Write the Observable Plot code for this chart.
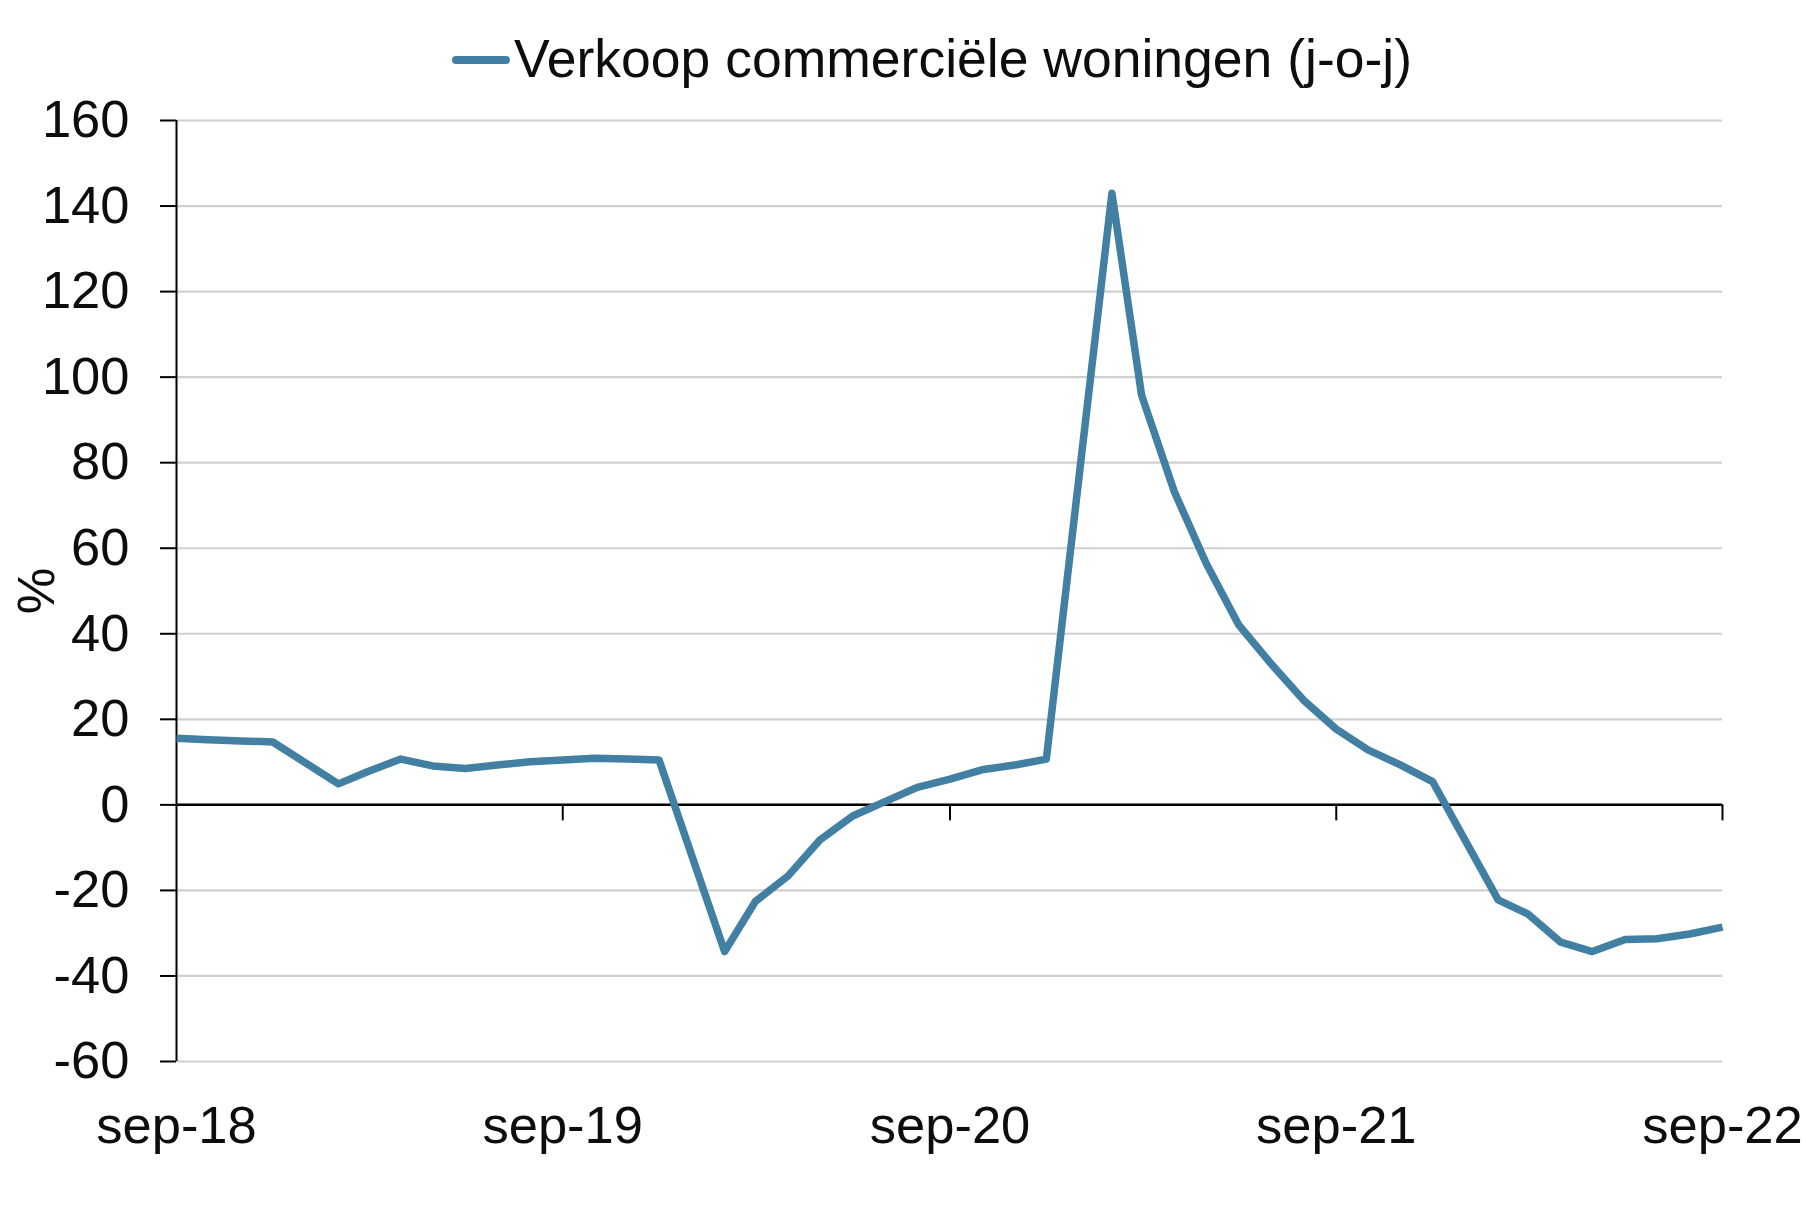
<!DOCTYPE html>
<html>
<head>
<meta charset="utf-8">
<script src="https://cdn.jsdelivr.net/npm/d3@7"></script>
<script src="https://cdn.jsdelivr.net/npm/@observablehq/plot@0.6"></script>
<style>
  html, body { margin: 0; padding: 0; background: #fff; }
  body { width: 1806px; height: 1209px; position: relative; overflow: hidden; font-family: "Liberation Sans", Arial, sans-serif; }
  #legend { position: relative; width: 1806px; height: 80px; }
  #legend .sw { position: absolute; left: 452px; top: 56px; width: 58px; height: 8px; border-radius: 4px; background: #417fa3; }
  #legend .lb { position: absolute; left: 514px; top: 31.5px; font-size: 53.5px; line-height: 53.5px; color: #0d0d0d; white-space: nowrap; }
  #chart svg { display: block; overflow: visible; }
</style>
</head>
<body>
<div id="legend"><div class="sw"></div><div class="lb" id="seriesName"></div></div>
<div id="chart"></div>
<script>
// ---- data ----
const seriesName = "Verkoop commerciële woningen (j-o-j)";
const months = [
  "2018-09","2018-10","2018-11","2018-12","2019-02","2019-03","2019-04","2019-05","2019-06","2019-07","2019-08",
  "2019-09","2019-10","2019-11","2019-12","2020-02","2020-03","2020-04","2020-05","2020-06","2020-07","2020-08",
  "2020-09","2020-10","2020-11","2020-12","2021-02","2021-03","2021-04","2021-05","2021-06","2021-07","2021-08",
  "2021-09","2021-10","2021-11","2021-12","2022-02","2022-03","2022-04","2022-05","2022-06","2022-07","2022-08",
  "2022-09"
];
const values = [
  15.6, 15.2, 14.95, 14.7, 4.9, 7.8, 10.7, 9.1, 8.5, 9.3, 10.1,
  10.5, 10.9, 10.7, 10.5, -34.3, -22.6, -16.6, -8.2, -2.6, 0.7, 4.1,
  6.0, 8.2, 9.3, 10.7, 143, 95.8, 73.2, 56.5, 42, 33.1, 24.5,
  17.7, 12.85, 9.3, 5.45, -22.2, -25.5, -32.1, -34.3, -31.5, -31.3, -30.2,
  -28.6
];
const xTickMonths = ["2018-09","2019-09","2020-09","2021-09","2022-09"];
const xTickLabels = ["sep-18","sep-19","sep-20","sep-21","sep-22"];
const yTicks = [-60,-40,-20,0,20,40,60,80,100,120,140,160];
const yLabel = "%";

// ---- build ----
const parse = d3.utcParse("%Y-%m");
const data = months.map((m, i) => ({date: parse(m), value: values[i]}));
const xTicks = xTickMonths.map(parse);
const labelOf = new Map(xTicks.map((d, i) => [+d, xTickLabels[i]]));

document.getElementById("seriesName").textContent = seriesName;

const FONT = "'Liberation Sans', Arial, sans-serif";
const chart = Plot.plot({
  width: 1806,
  height: 1129,
  marginTop: 40,
  marginBottom: 148,
  marginLeft: 176,
  marginRight: 84,
  style: {fontFamily: FONT, fontSize: "52px", color: "#0d0d0d", background: "#fff", overflow: "visible"},
  x: {type: "utc", domain: [xTicks[0], xTicks[xTicks.length - 1]]},
  y: {domain: [-60, 160]},
  marks: [
    Plot.ruleY(yTicks, {stroke: "#d0d0d0", strokeWidth: 2.2}),
    Plot.axisY({ticks: yTicks, tickSize: 16, tickPadding: 31, tickFormat: d => String(d),
      stroke: "#000", strokeWidth: 2, fill: "#0d0d0d", fontSize: 52.5, label: null}),
    Plot.axisX({ticks: xTicks, tickSize: 0, tickPadding: 44, tickFormat: d => labelOf.get(+d),
      fill: "#0d0d0d", fontSize: 52.5, label: null}),
    Plot.ruleX([xTicks[0]], {y1: -60, y2: 160, stroke: "#000", strokeWidth: 2}),
    Plot.ruleY([0], {stroke: "#000", strokeWidth: 2.5}),
    Plot.ruleX(xTicks.slice(1), {y1: 0, y2: 0, insetBottom: -16, stroke: "#000", strokeWidth: 2}),
    Plot.line(data, {x: "date", y: "value", stroke: "#417fa3", strokeWidth: 7.5,
      strokeLinejoin: "round", strokeLinecap: "butt"}),
    Plot.text([yLabel], {frameAnchor: "left", textAnchor: "middle", dx: -139, rotate: -90,
      fontSize: 52.5, fill: "#0d0d0d"})
  ]
});
document.getElementById("chart").appendChild(chart);
</script>
</body>
</html>
